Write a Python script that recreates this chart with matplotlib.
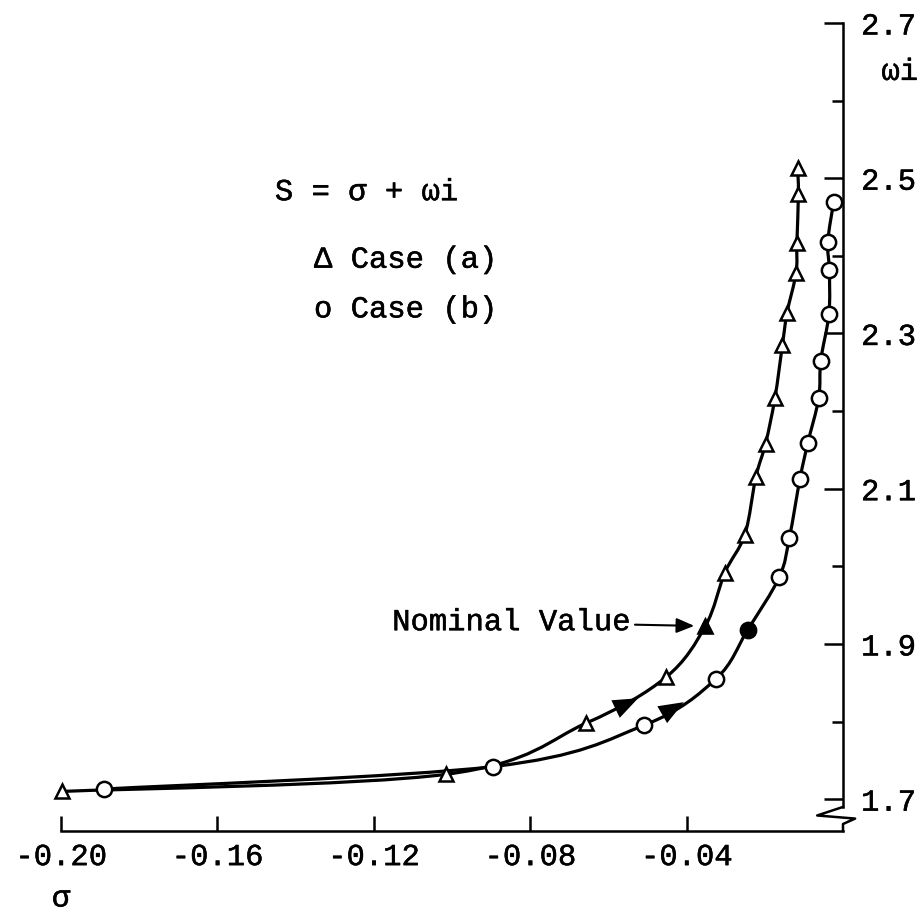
"""Root locus of S = sigma + omega*i for two cases (scanned typewriter figure)."""

import matplotlib

matplotlib.use("Agg")
import matplotlib.patheffects as pe
import matplotlib.pyplot as plt
from matplotlib.patches import PathPatch
from matplotlib.path import Path

plt.rcParams["font.family"] = ["Liberation Mono", "DejaVu Sans Mono"]

# case (a): triangles
sigma_a = [-0.1997, -0.1016, -0.0657, -0.0453, -0.0352, -0.0302, -0.0251, -0.0223,
           -0.0198, -0.0174, -0.0155, -0.0143, -0.0120, -0.0118, -0.0114, -0.0116]
omega_a = [1.710, 1.732, 1.798, 1.857, 1.923, 1.992, 2.041, 2.115,
           2.158, 2.217, 2.285, 2.327, 2.378, 2.416, 2.480, 2.513]
nominal_a = (-0.0352, 1.923)

# case (b): circles
sigma_b = [-0.1891, -0.0895, -0.0510, -0.0325, -0.0244, -0.0163, -0.0137, -0.0110,
           -0.0090, -0.0062, -0.0057, -0.0036, -0.0035, -0.0039, -0.0024]
omega_b = [1.713, 1.742, 1.795, 1.855, 1.918, 1.986, 2.037, 2.113,
           2.159, 2.217, 2.265, 2.325, 2.382, 2.418, 2.469]
nominal_b = (-0.0244, 1.918)

# direction arrows drawn on the curves (tip position, point behind it)
arrow_tips = [(-0.0524, 1.830), (-0.0407, 1.825)]
arrow_tails = [(-0.0657, 1.798), (-0.0510, 1.795)]

x_ticks = [-0.20, -0.16, -0.12, -0.08, -0.04]
x_tick_labels = ["-0.20", "-0.16", "-0.12", "-0.08", "-0.04"]
y_ticks = [1.7, 1.9, 2.1, 2.3, 2.5, 2.7]
y_minor_ticks = [1.8, 2.0, 2.2, 2.4, 2.6]
y_tick_labels = ["1.7", "1.9", "2.1", "2.3", "2.5", "2.7"]

FONT_SIZE = 22
LW = 2.3
INK = [pe.withStroke(linewidth=0.35, foreground="black")]


def smooth_path(xs, ys):
    """Catmull-Rom curve through the points, as cubic Bezier segments."""
    pts = list(zip(xs, ys))
    padded = [pts[0]] + pts + [pts[-1]]
    verts = [pts[0]]
    codes = [Path.MOVETO]
    for i in range(1, len(padded) - 2):
        p0, p1, p2, p3 = padded[i - 1], padded[i], padded[i + 1], padded[i + 2]
        c1 = (p1[0] + (p2[0] - p0[0]) / 6, p1[1] + (p2[1] - p0[1]) / 6)
        c2 = (p2[0] - (p3[0] - p1[0]) / 6, p2[1] - (p3[1] - p1[1]) / 6)
        verts += [c1, c2, p2]
        codes += [Path.CURVE4] * 3
    return Path(verts, codes)


fig = plt.figure(figsize=(9.23, 9.18), dpi=100)
ax = fig.add_axes([61 / 923, 1 - 831 / 918, (843 - 61) / 923, (831 - 23) / 918])
ax.set_xlim(-0.20, 0.0)
ax.set_ylim(1.659, 2.7)

# smooth curves
for xs, ys in ((sigma_a, omega_a), (sigma_b, omega_b)):
    ax.add_patch(PathPatch(smooth_path(xs, ys), fill=False, edgecolor="black",
                           lw=LW, clip_on=False, zorder=2))

# markers
ax.plot(sigma_a, omega_a, linestyle="none", marker="^", markersize=10,
        markerfacecolor="white", markeredgecolor="black", markeredgewidth=1.8,
        clip_on=False, zorder=3)
ax.plot(sigma_b, omega_b, linestyle="none", marker="o", markersize=11,
        markerfacecolor="white", markeredgecolor="black", markeredgewidth=1.8,
        clip_on=False, zorder=3)
ax.plot(*nominal_a, marker="^", markersize=10, color="black", zorder=4)
ax.plot(*nominal_b, marker="o", markersize=11, color="black", zorder=4)

for tip, tail in zip(arrow_tips, arrow_tails):
    ax.annotate("", xy=tip, xytext=tail,
                arrowprops=dict(arrowstyle="-|>,head_length=0.9,head_width=0.35",
                                color="black", lw=0, shrinkA=0, shrinkB=0,
                                mutation_scale=20))

ax.annotate("Nominal Value", xy=nominal_a, xytext=(-0.1153, 1.928),
            fontsize=FONT_SIZE, va="center", ha="left", path_effects=INK,
            arrowprops=dict(arrowstyle="-|>,head_length=0.6,head_width=0.25",
                            color="black", lw=1.5, shrinkA=2, shrinkB=8,
                            mutation_scale=18))

# key text
ax.text(-0.1453, 2.482, "S = \u03c3 + \u03c9i", fontsize=FONT_SIZE, va="center",
        path_effects=INK)
ax.text(-0.1353, 2.395, "\u0394 Case (a)", fontsize=FONT_SIZE, va="center",
        path_effects=INK)
ax.text(-0.1353, 2.331, "o Case (b)", fontsize=FONT_SIZE, va="center",
        path_effects=INK)

# axes styling
for side in ("top", "left"):
    ax.spines[side].set_visible(False)
ax.spines["bottom"].set_linewidth(1.8)
ax.spines["right"].set_linewidth(1.8)
ax.spines["right"].set_bounds(1.69, 2.7)

ax.set_xticks(x_ticks)
ax.set_xticklabels(x_tick_labels)
ax.tick_params(axis="x", direction="in", length=11, width=1.8,
               labelsize=FONT_SIZE, pad=8)

ax.yaxis.tick_right()
ax.set_yticks(y_ticks)
ax.set_yticklabels(y_tick_labels)
ax.set_yticks(y_minor_ticks, minor=True)
ax.tick_params(axis="y", which="major", direction="in", length=14, width=1.8,
               labelsize=FONT_SIZE, pad=13)
ax.tick_params(axis="y", which="minor", direction="in", length=8, width=1.8)
for label in ax.get_xticklabels() + ax.get_yticklabels():
    label.set_path_effects(INK)

# axis break symbol at the bottom of the right axis
ax.plot([0.0, -0.0066, 0.0031, 0.0, 0.0], [1.69, 1.679, 1.675, 1.668, 1.659],
        color="black", lw=1.8, clip_on=False, zorder=2)

ax.text(0.0145, 2.637, "\u03c9i", fontsize=FONT_SIZE, ha="center", va="center",
        path_effects=INK)
ax.text(-0.2, 1.572, "\u03c3", fontsize=FONT_SIZE, ha="center", va="center",
        path_effects=INK)

fig.savefig("out.png", dpi=100)
